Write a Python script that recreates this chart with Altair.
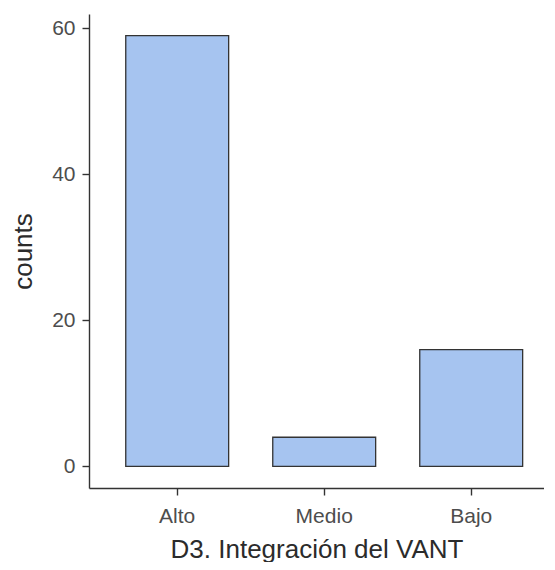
import altair as alt
import pandas as pd

categories = ["Alto", "Medio", "Bajo"]
counts = [59, 4, 16]

df = pd.DataFrame({"cat": categories, "counts": counts})

font = "Liberation Sans"

chart = alt.Chart(df).mark_bar(
    fill="#A6C4F0", stroke="#333333", strokeWidth=1.3
).encode(
    x=alt.X("cat:N", sort=categories,
            scale=alt.Scale(paddingInner=0.3, paddingOuter=0.1976, align=0.6326),
            axis=alt.Axis(title="D3. Integración del VANT", labelAngle=0,
                          labelFont=font, labelFontSize=21, labelColor="#4D4D4D",
                          titleFont=font, titleFontSize=26, titleFontWeight="normal",
                          titleColor="#2B2B2B", domainColor="#333333", domainWidth=1.4,
                          tickColor="#333333", tickWidth=1.4, tickSize=7,
                          labelPadding=10, titlePadding=10)),
    y=alt.Y("counts:Q",
            scale=alt.Scale(domain=[-2.95, 61.95], nice=False, zero=False),
            axis=alt.Axis(title="counts", values=[0, 20, 40, 60], grid=False,
                          labelFont=font, labelFontSize=21, labelColor="#4D4D4D",
                          titleFont=font, titleFontSize=26, titleFontWeight="normal",
                          titleColor="#2B2B2B", domainColor="#333333", domainWidth=1.4,
                          tickColor="#333333", tickWidth=1.4, tickSize=7,
                          labelPadding=7, titlePadding=15)),
    y2=alt.datum(0),
).properties(
    width=455, height=474,
    padding={"left": 2, "top": 6, "right": 0, "bottom": 0},
).configure_view(strokeWidth=0)

chart.save("out.html", embed_options={"renderer": "svg", "actions": False})
